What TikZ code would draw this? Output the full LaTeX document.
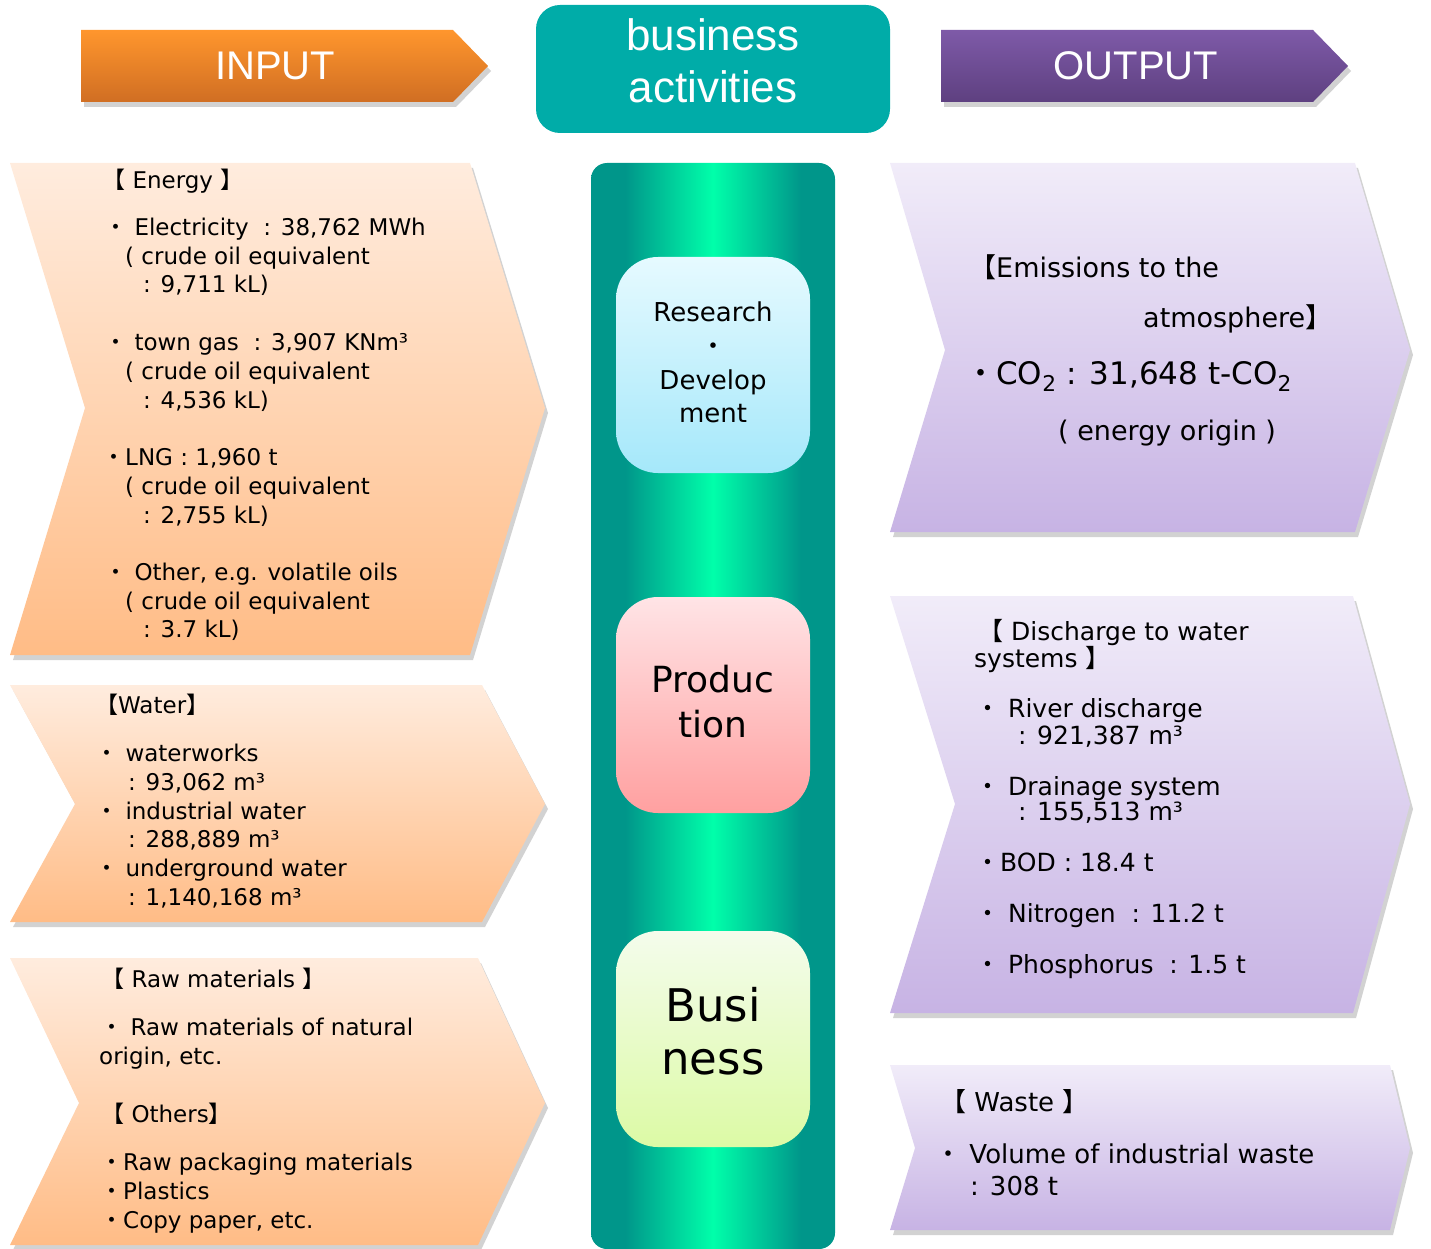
\documentclass[tikz,border=0pt]{standalone}
\usepackage{fontspec}
\setmainfont{DejaVu Sans}
\newfontfamily\cjk{Noto Sans CJK JP}
\newfontfamily\hdr{Liberation Sans}
\usetikzlibrary{shadows}
\newcommand\bu{{\cjk ・}}
\newcommand\lb{{\cjk 【}}
\newcommand\rb{{\cjk 】}}
\definecolor{inTop}{RGB}{255,150,45}
\definecolor{inBot}{RGB}{208,110,35}
\definecolor{outTop}{RGB}{126,90,168}
\definecolor{outBot}{RGB}{94,64,128}
\definecolor{bizTeal}{RGB}{0,172,168}
\definecolor{peachTop}{RGB}{255,236,222}
\definecolor{peachBot}{RGB}{255,188,134}
\definecolor{lilacTop}{RGB}{241,236,249}
\definecolor{lilacBot}{RGB}{199,179,228}
\definecolor{colDark}{RGB}{0,150,138}
\definecolor{colNeon}{RGB}{0,255,170}
\definecolor{rdTop}{RGB}{230,250,255}
\definecolor{rdBot}{RGB}{165,232,250}
\definecolor{prTop}{RGB}{255,228,230}
\definecolor{prBot}{RGB}{255,160,160}
\definecolor{bsTop}{RGB}{244,252,236}
\definecolor{bsBot}{RGB}{220,250,165}
\pgfdeclarehorizontalshading{colshade}{100bp}{color(0bp)=(colDark); color(25bp)=(colDark); color(32bp)=(colDark); color(50bp)=(colNeon); color(68bp)=(colDark); color(75bp)=(colDark); color(100bp)=(colDark)}
\tikzset{
  shd/.style={drop shadow={shadow xshift=3pt, shadow yshift=-5pt, opacity=.25, fill=black!70}},
  inchev/.style={top color=peachTop, bottom color=peachBot, draw=none, shd},
  outchev/.style={top color=lilacTop, bottom color=lilacBot, draw=none, shd},
  txt/.style={inner sep=0pt, anchor=base west, text=black},
  ctr/.style={inner sep=0pt, anchor=base, text=black},
  fa/.style={font=\fontsize{23}{28}\selectfont},
  fb/.style={font=\fontsize{25}{30}\selectfont},
  fc/.style={font=\fontsize{26}{31}\selectfont},
  fd/.style={font=\fontsize{27}{32}\selectfont},
  fe/.style={font=\fontsize{31}{37}\selectfont},
  hd/.style={inner sep=0pt, text=white, font=\hdr\fontsize{40}{48}\selectfont},
  hb/.style={inner sep=0pt, anchor=base, text=white, font=\hdr\fontsize{44}{52}\selectfont}
}
\begin{document}
\begin{tikzpicture}[x=1pt,y=-1pt]
\useasboundingbox (0,0) rectangle (1431,1249);
% headers
\path[top color=inTop, bottom color=inBot, shd] (81,30) -- (453,30) -- (488,66) -- (453,102) -- (81,102) -- cycle;
\node[hd] (input) at (275,66) {INPUT};
\path[fill=bizTeal, rounded corners=24pt] (536,5) rectangle (890,133);
\node[hb] (biz1) at (713,51) {business};
\node[hb] (biz2) at (713,103) {activities};
\path[top color=outTop, bottom color=outBot, shd] (941,30) -- (1313,30) -- (1348,66) -- (1313,102) -- (941,102) -- cycle;
\node[hd] (output) at (1136,66) {OUTPUT};
% input chevrons
\path[inchev] (10,163) -- (470,163) -- (545,408) -- (470,655) -- (10,655) -- (85,408) -- cycle;
\path[inchev] (10,685) -- (482,685) -- (545,804) -- (482,922) -- (10,922) -- (75,804) -- cycle;
\path[inchev] (10,958) -- (478,958) -- (545,1103) -- (478,1245) -- (10,1245) -- (79,1103) -- cycle;
% output chevrons
\path[outchev] (890,163) -- (1355,163) -- (1410,350) -- (1355,532) -- (890,532) -- (945,350) -- cycle;
\path[outchev] (890,596) -- (1353,596) -- (1410,804) -- (1353,1013) -- (890,1013) -- (955,804) -- cycle;
\path[outchev] (890,1065) -- (1390,1065) -- (1410,1148) -- (1390,1230) -- (890,1230) -- (915,1148) -- cycle;
% central column
\path[shading=colshade, rounded corners=16pt] (591,163) rectangle (835,1249);
\path[top color=rdTop, bottom color=rdBot, rounded corners=42pt] (616,257) rectangle (810,473);
\path[top color=prTop, bottom color=prBot, rounded corners=42pt] (616,597) rectangle (810,813);
\path[top color=bsTop, bottom color=bsBot, rounded corners=42pt] (616,931) rectangle (810,1147);
\node[ctr,fc] (rd1) at (713,321) {Research};
\node[ctr,fc] (rd2) at (713,355) {\bu};
\node[ctr,fc] (rd3) at (713,389) {Develop};
\node[ctr,fc] (rd4) at (713,422) {ment};
\node[ctr,font=\fontsize{36}{43}\selectfont] (pr1) at (713,692) {Produc};
\node[ctr,font=\fontsize{36}{43}\selectfont] (pr2) at (713,737) {tion};
\node[ctr,font=\fontsize{45}{54}\selectfont] (bs1) at (713,1021) {Busi};
\node[ctr,font=\fontsize{45}{54}\selectfont] (bs2) at (713,1074) {ness};
% energy
\node[txt,fa] (e0) at (102,189) {\lb{} Energy \rb};
\node[txt,fa] (e1) at (104,236) {\bu{} Electricity\ \ : 38,762 MWh};
\node[txt,fa] (e2) at (125,264) {( crude oil equivalent};
\node[txt,fa] (e3) at (143,292) {: 9,711 kL)};
\node[txt,fa] (e4) at (104,350) {\bu{} town gas\ \ : 3,907 KNm³};
\node[txt,fa] (e5) at (125,379) {( crude oil equivalent};
\node[txt,fa] (e6) at (143,408) {: 4,536 kL)};
\node[txt,fa] (e7) at (102,465) {\bu{}LNG : 1,960 t};
\node[txt,fa] (e8) at (125,494) {( crude oil equivalent};
\node[txt,fa] (e9) at (143,523) {: 2,755 kL)};
\node[txt,fa] (e10) at (104,580) {\bu{} Other, e.g. volatile oils};
\node[txt,fa] (e11) at (125,609) {( crude oil equivalent};
\node[txt,fa] (e12) at (143,637) {: 3.7 kL)};
% water
\node[txt,fa] (w0) at (95,713) {\lb{}Water\rb};
\node[txt,fa] (w1) at (95,761) {\bu{} waterworks};
\node[txt,fa] (w2) at (128,790) {: 93,062 m³};
\node[txt,fa] (w3) at (95,819) {\bu{} industrial water};
\node[txt,fa] (w4) at (128,847) {: 288,889 m³};
\node[txt,fa] (w5) at (95,876) {\bu{} underground water};
\node[txt,fa] (w6) at (128,905) {: 1,140,168 m³};
% raw materials
\node[txt,fa] (r0) at (101,987) {\lb{} Raw materials \rb};
\node[txt,fa] (r1) at (100,1035) {\bu{} Raw materials of natural};
\node[txt,fa] (r2) at (99,1064) {origin, etc.};
\node[txt,fa] (r3) at (101,1122) {\lb{} Others\rb};
\node[txt,fa] (r4) at (100,1170) {\bu{}Raw packaging materials};
\node[txt,fa] (r5) at (100,1199) {\bu{}Plastics};
\node[txt,fa] (r6) at (100,1228) {\bu{}Copy paper, etc.};
% emissions
\node[txt,fd] (m0) at (969,277) {\lb{}Emissions to the};
\node[txt,fd] (m1) at (1143,327) {atmosphere\rb};
\node[txt,fe] (m2) at (965,384) {\bu{}CO\textsubscript{2} : 31,648 t-CO\textsubscript{2}};
\node[txt,fd] (m3) at (1058,440) {( energy origin )};
% discharge
\node[txt,fb] (d0) at (978,640) {\lb{} Discharge to water};
\node[txt,fb] (d1) at (974,667) {systems \rb};
\node[txt,fb] (d2) at (975,717) {\bu{} River discharge};
\node[txt,fb] (d3) at (1018,744) {: 921,387 m³};
\node[txt,fb] (d4) at (975,795) {\bu{} Drainage system};
\node[txt,fb] (d5) at (1018,820) {: 155,513 m³};
\node[txt,fb] (d6) at (975,871) {\bu{}BOD : 18.4 t};
\node[txt,fb] (d7) at (975,922) {\bu{} Nitrogen\ \ : 11.2 t};
\node[txt,fb] (d8) at (975,973) {\bu{} Phosphorus\ \ : 1.5 t};
% waste
\node[txt,fc] (s0) at (940,1111) {\lb{} Waste \rb};
\node[txt,fc] (s1) at (935,1163) {\bu{} Volume of industrial waste};
\node[txt,fc] (s2) at (970,1195) {: 308 t};
\end{tikzpicture}
\end{document}
